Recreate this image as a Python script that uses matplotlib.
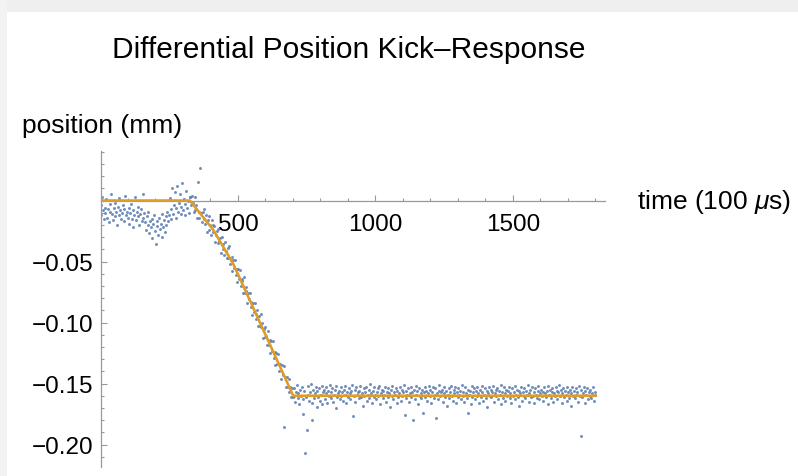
import numpy as np
import matplotlib.pyplot as plt
from matplotlib.ticker import MultipleLocator
from matplotlib.patches import Rectangle

plt.rcParams['font.family'] = ['Liberation Sans', 'DejaVu Sans']
plt.rcParams['mathtext.fontset'] = 'custom'
plt.rcParams['mathtext.rm'] = 'Liberation Sans'
plt.rcParams['mathtext.it'] = 'Liberation Sans:italic'

# measured positions in micrometres, one sample every 3 time units (100 us)
# before the kick: t = 0 .. 324
pos_before_um = [
    -4, -12, 3, -8, -15, -6, -10, 1, -14, -7, -18, -3, -9, 5, -11, -16, -6, -13, -2, -9,
    -20, -5, -12, 2, -8, -15, -10, -4, -17, -7, 4, -12, -9, -14, -6, -19, -10, -3, -15, -8,
    -22, -12, 3, -16, -9, -13, -5, -20, -11, -7, -17, -14, 5, -10, -18, -24, -13, -20, -9, -27,
    -17, -22, -15, -31, -19, -12, -25, -36, -21, -17, -28, -14, -23, -19, -30, -11, -22, -16, -26, -13,
    -20, -9, -17, -12, 2, -15, -7, 10, -11, -4, 7, -14, -6, 12, -9, -2, 5, -11, -5, 14,
    -8, 1, -12, -3, 8, -6, 0, -10, 3]
# ramp: t = 327 .. 699
pos_ramp_um = [
    3, -4, 4, -2, -9, 3, -8, -4, -14, 15, -9, -14, 27, -10, -18, -9, -15, -7, -19, -12,
    -26, -16, -13, -24, -20, -28, -16, -20, -26, -21, -34, -28, -25, -35, -23, -33, -31, -43, -30, -40,
    -36, -45, -34, -41, -47, -39, -47, -37, -52, -49, -46, -58, -49, -55, -49, -61, -56, -67, -56, -64,
    -57, -70, -66, -64, -76, -63, -76, -74, -71, -84, -76, -81, -76, -87, -83, -94, -84, -91, -84, -97,
    -93, -90, -103, -95, -103, -93, -104, -100, -113, -105, -112, -104, -111, -118, -107, -118, -114, -125, -115, -123,
    -115, -129, -124, -135, -125, -134, -126, -134, -140, -134, -146, -135, -143, -136, -186, -145, -153, -145, -153, -146,
    -157, -153, -161, -154, -161]
# after the kick: t = 702 .. 1800
pos_after_um = [
    -160, -154, -165, -157, -151, -162, -158, -167, -155, -160, -153, -163, -175, -156, -207, -161, -188, -152, -159, -164,
    -157, -150, -166, -180, -155, -162, -158, -153, -169, -156, -161, -154, -164, -159, -152, -167, -157, -155, -163, -158,
    -153, -166, -156, -160, -151, -162, -157, -154, -165, -159, -155, -170, -152, -161, -158, -156, -163, -153, -160, -157,
    -164, -155, -159, -152, -166, -157, -161, -154, -158, -163, -156, -151, -177, -160, -155, -165, -153, -159, -157, -162,
    -156, -152, -161, -158, -168, -154, -160, -157, -153, -164, -159, -155, -162, -150, -158, -166, -156, -161, -153, -159,
    -163, -157, -154, -160, -152, -167, -158, -155, -162, -156, -159, -153, -165, -157, -161, -154, -158, -169, -155, -160,
    -152, -163, -157, -159, -154, -166, -156, -161, -158, -153, -164, -155, -160, -157, -151, -176, -162, -156, -159, -154,
    -165, -158, -153, -161, -157, -180, -155, -163, -152, -159, -156, -167, -154, -160, -158, -162, -155, -174, -157, -153,
    -161, -156, -164, -158, -152, -160, -155, -166, -157, -153, -162, -159, -154, -178, -158, -163, -156, -151, -160, -157,
    -155, -165, -158, -153, -161, -156, -168, -159, -154, -162, -157, -152, -160, -164, -155, -158, -153, -166, -157, -161,
    -154, -159, -156, -163, -151, -160, -157, -165, -153, -158, -162, -155, -174, -159, -156, -167, -152, -161, -157, -154,
    -163, -156, -160, -153, -158, -166, -155, -161, -157, -152, -164, -159, -154, -162, -156, -169, -158, -153, -160, -155,
    -161, -157, -152, -165, -158, -155, -160, -154, -163, -156, -159, -151, -167, -157, -162, -153, -158, -164, -155, -160,
    -156, -153, -162, -158, -166, -154, -160, -157, -152, -163, -159, -155, -161, -168, -156, -158, -153, -164, -157, -160,
    -154, -162, -156, -159, -151, -165, -158, -155, -161, -153, -160, -157, -166, -154, -159, -162, -156, -152, -163, -158,
    -155, -160, -157, -164, -153, -158, -161, -156, -167, -152, -159, -155, -162, -157, -154, -165, -158, -160, -153, -156,
    -163, -157, -151, -160, -155, -166, -158, -154, -161, -156, -159, -153, -164, -157, -162, -155, -168, -158, -153, -160,
    -156, -162, -154, -159, -157, -165, -152, -160, -193, -155, -161, -158, -153, -166, -156, -159, -154, -163, -157, -160,
    -155, -162, -158, -153, -164, -157, -159]

# piecewise fit
fit_t = [0, 325, 410, 483, 701, 1800]
fit_pos = [0, 0, -0.024, -0.052, -0.160, -0.160]

x_ticks = [500, 1000, 1500]
y_ticks = [-0.20, -0.15, -0.10, -0.05]
y_tick_labels = ['\u22120.20', '\u22120.15', '\u22120.10', '\u22120.05']

t_all = np.arange(0, 1801, 3)
pos_all = np.array(pos_before_um + pos_ramp_um + pos_after_um) / 1000.0

W, H = 798, 477
fig = plt.figure(figsize=(W / 100, H / 100), dpi=100)
fig.patch.set_facecolor('white')
# light grey frame of the notebook cell
fig.patches.append(Rectangle((0, 1 - 13 / H), 1, 13 / H, transform=fig.transFigure,
                             facecolor='#efefef', edgecolor='none', zorder=0))
fig.patches.append(Rectangle((0, 0), 7 / W, 1, transform=fig.transFigure,
                             facecolor='#f2f2f2', edgecolor='none', zorder=0))

ax = fig.add_axes([100.5 / W, 1 - 468 / H, 504.5 / W, 316 / H])
ax.set_facecolor('none')
ax.scatter(t_all, pos_all, s=4.5, color='#5E81B5', alpha=0.9, linewidths=0, zorder=2)
ax.plot(fit_t, fit_pos, color='#E19C24', lw=1.9, zorder=3)

ax.set_xlim(0, 1835)
ax.set_ylim(-0.2184, 0.0406)

for s in ['top', 'right']:
    ax.spines[s].set_visible(False)
ax.spines['bottom'].set_position(('data', 0))
for s in ['left', 'bottom']:
    ax.spines[s].set_color('#999999')
    ax.spines[s].set_linewidth(0.9)

ax.set_xticks(x_ticks)
ax.set_xticklabels([str(v) for v in x_ticks])
ax.xaxis.set_minor_locator(MultipleLocator(100))
ax.set_yticks(y_ticks)
ax.set_yticklabels(y_tick_labels)
ax.yaxis.set_minor_locator(MultipleLocator(0.01))
ax.tick_params(which='both', direction='in', color='#999999', width=0.8)
ax.tick_params(which='major', length=4, labelsize=17.5)
ax.tick_params(which='minor', length=2.2)
ax.tick_params(axis='x', pad=9)
ax.tick_params(axis='y', pad=5)

fig.text(349 / W, 1 - 58 / H, 'Differential Position Kick\u2013Response', ha='center',
         va='baseline', fontsize=21.5)
fig.text(22 / W, 1 - 133 / H, 'position (mm)', ha='left', va='baseline', fontsize=19)
fig.text(637 / W, 1 - 209 / H, r'time (100 $\mu$s)', ha='left', va='baseline', fontsize=19)

fig.savefig('out.png', dpi=100, facecolor=fig.get_facecolor())
